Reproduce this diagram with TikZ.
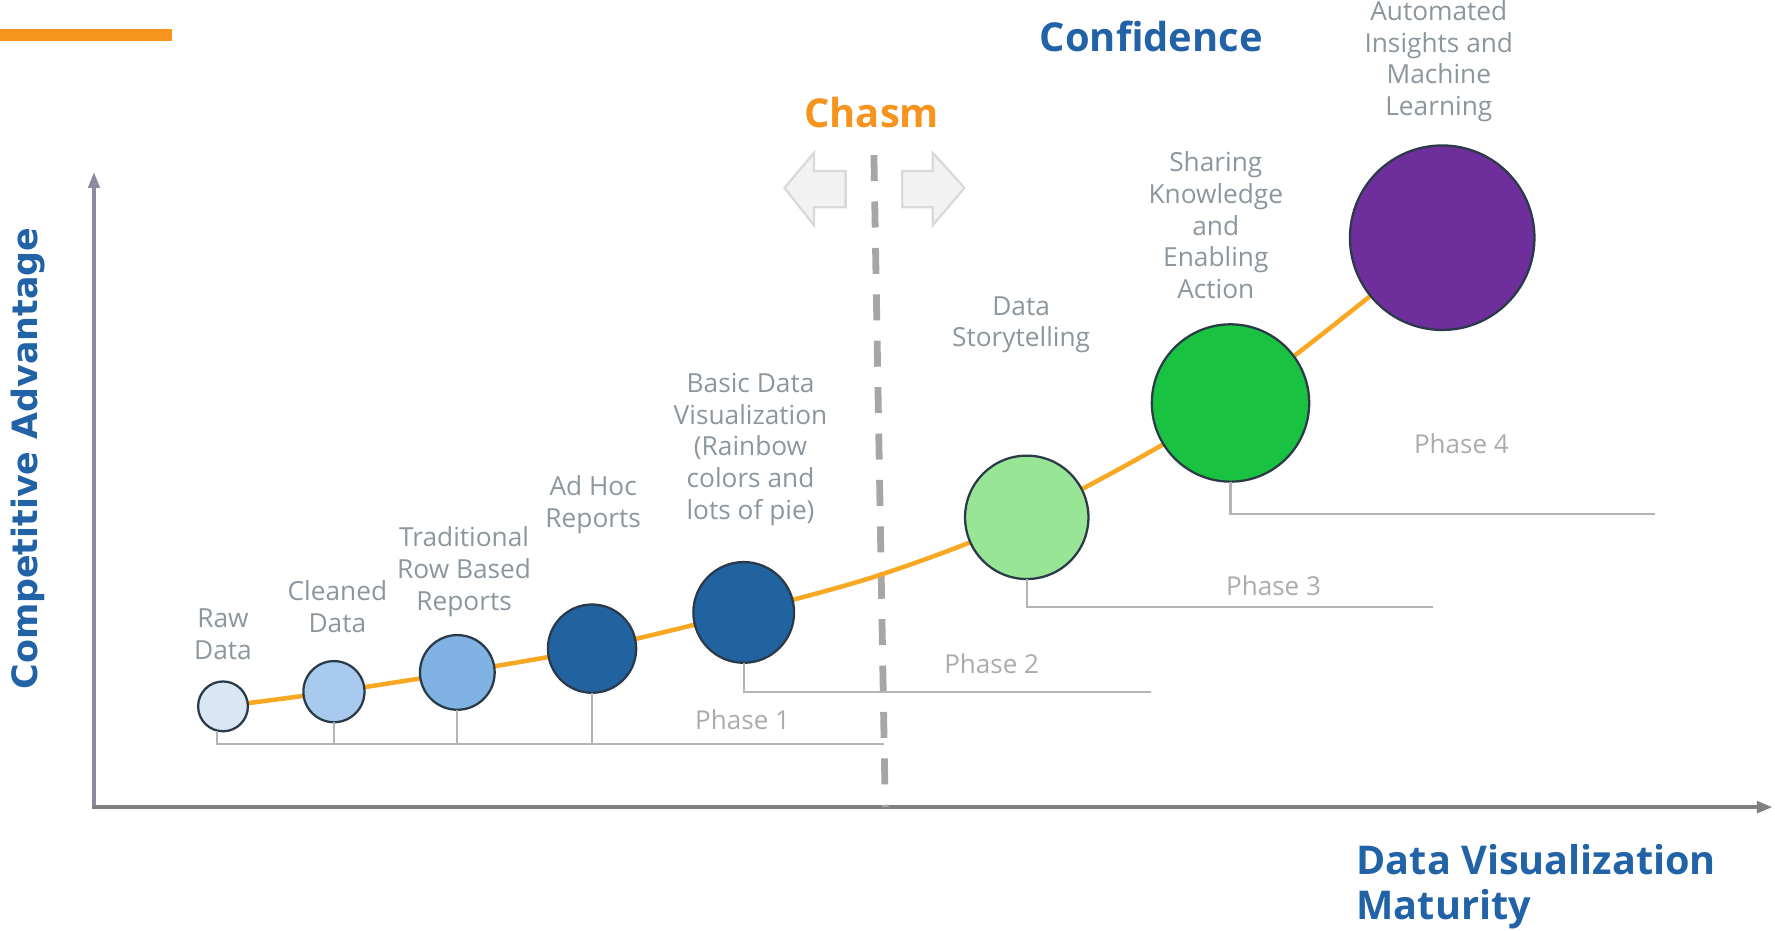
\documentclass[tikz,border=0pt]{standalone}
\usepackage{fontspec}
\setmainfont{Open Sans}
\newfontfamily\axisfont{DejaVu Sans}
\usetikzlibrary{arrows.meta}
\definecolor{tblue}{HTML}{2163A6}
\definecolor{torange}{HTML}{F7941D}
\definecolor{curvec}{HTML}{F8A823}
\definecolor{lblgray}{HTML}{8C969D}
\definecolor{phgray}{HTML}{ABABAB}
\definecolor{phline}{HTML}{B4B4B4}
\definecolor{cstroke}{HTML}{2B3A48}
\definecolor{fraw}{HTML}{D9E6F4}
\definecolor{fclean}{HTML}{A8CAEE}
\definecolor{ftrad}{HTML}{80B2E3}
\definecolor{fdark}{HTML}{2162A1}
\definecolor{fstory}{HTML}{98E596}
\definecolor{fshare}{HTML}{1AC241}
\definecolor{fauto}{HTML}{6E2F9C}
\definecolor{arrfill}{HTML}{F2F2F2}
\definecolor{arrdraw}{HTML}{D9D9D9}
\definecolor{yaxc}{HTML}{8A8AA0}
\definecolor{xaxc}{HTML}{808080}
\definecolor{chasmc}{HTML}{A6A6A6}
\begin{document}
\begin{tikzpicture}[x=0.5pt,y=-0.5pt,
  stage/.style={circle,draw=cstroke,line width=1pt,inner sep=0pt,outer sep=0pt},
  lbl/.style={text=lblgray,align=center,font=\fontsize{11.6}{14}\selectfont},
  phlbl/.style={text=phgray,font=\fontsize{11.5}{14}\selectfont},
  phase/.style={draw=phline,line width=1pt},
  title/.style={font=\fontsize{17.6}{20}\selectfont\bfseries},
  blockarrow/.style={fill=arrfill,draw=arrdraw,line width=1pt,line join=miter}]
\useasboundingbox (0,0) rectangle (1568,822);
% orange bar
\fill[torange] (0,26) rectangle (152,36);
% axes
\coordinate (origin) at (83,713);
\coordinate (ytop) at (83,152);
\coordinate (xend) at (1566,713);
\draw[yaxc,line width=1.5pt,-{Triangle[length=7pt,width=5pt]}] (origin) -- (ytop);
\draw[xaxc,line width=2pt,-{Triangle[length=7pt,width=5pt]}] ([xshift=-1pt]origin) -- (xend);
% chasm dashed line
\coordinate (dtop) at (772,137);
\coordinate (dbot) at (782,713);
\draw[chasmc,line width=3pt,dash pattern=on 11.5pt off 9pt] (dtop) -- (dbot);
% block arrows
\draw[blockarrow] (693,166) -- (719,135) -- (719,151) -- (747,151) -- (747,183) -- (719,183) -- (719,199) -- cycle;
\draw[blockarrow] (852,166) -- (824,135) -- (824,151) -- (797,151) -- (797,183) -- (824,183) -- (824,199) -- cycle;
% centres
\coordinate (p1) at (197,624);
\coordinate (p2) at (295,611);
\coordinate (p3) at (404,594);
\coordinate (p4) at (523,573);
\coordinate (p5) at (657,541);
\coordinate (pm) at (780,507);
\coordinate (p6) at (907,457);
\coordinate (p7) at (1087,356);
\coordinate (p8) at (1274,210);
% curve
\draw[curvec,line width=2pt] plot[smooth,tension=0.5] coordinates {(p1) (p2) (p3) (p4) (p5) (pm) (p6) (p7) (p8)};
% stages
\node[stage,fill=fraw,minimum size=22pt] (raw) at (p1) {};
\node[stage,fill=fclean,minimum size=27pt] (clean) at (p2) {};
\node[stage,fill=ftrad,minimum size=33pt] (trad) at (p3) {};
\node[stage,fill=fdark,minimum size=39pt] (adhoc) at (p4) {};
\node[stage,fill=fdark,minimum size=44.5pt] (basic) at (p5) {};
\node[stage,fill=fstory,minimum size=54.5pt] (story) at (p6) {};
\node[stage,fill=fshare,minimum size=69.5pt] (share) at (p7) {};
\node[stage,fill=fauto,minimum size=81.5pt] (auto) at (p8) {};
% labels
\node[lbl] (lraw) at (197,560) {Raw\\Data};
\node[lbl] (lclean) at (298,536) {Cleaned\\Data};
\node[lbl] (ltrad) at (410,505) {Traditional\\Row Based\\Reports};
\node[lbl] (ladhoc) at (524,446) {Ad Hoc\\Reports};
\node[lbl] (lbasic) at (663,397) {Basic Data\\Visualization\\(Rainbow\\colors and\\lots of pie)};
\node[lbl] (lstory) at (902,287) {Data\\Storytelling};
\node[lbl] (lshare) at (1074,199) {Sharing\\Knowledge\\and\\Enabling\\Action};
\node[lbl] (lauto) at (1271,54) {Automated\\Insights and\\Machine\\Learning};
% phases
\coordinate (ph1end) at (781,657);
\coordinate (ph2end) at (1017,611);
\coordinate (ph3end) at (1266,536);
\coordinate (ph4end) at (1462,454);
\draw[phase] ([xshift=-2.5pt]raw.south) |- (ph1end);
\draw[phase] (clean.south) -- (clean.south |- ph1end);
\draw[phase] (trad.south) -- (trad.south |- ph1end);
\draw[phase] (adhoc.south) -- (adhoc.south |- ph1end);
\draw[phase] (basic.south) |- (ph2end);
\draw[phase] (story.south) |- (ph3end);
\draw[phase] (share.south) |- (ph4end);
\node[phlbl] (ph1) at (656,636) {Phase 1};
\node[phlbl] (ph2) at (876,586) {Phase 2};
\node[phlbl] (ph3) at (1125,517) {Phase 3};
\node[phlbl] (ph4) at (1291,392) {Phase 4};
% titles
\node[title,text=tblue] (conf) at (1017,32) {Confidence};
\node[title,text=torange] (chasm) at (770,99) {Chasm};
\node[text=tblue,rotate=90,font=\axisfont\fontsize{15.4}{18}\selectfont\bfseries] (cadv) at (25,405) {Competitive Advantage};
\node[text=tblue,anchor=west,align=left,inner sep=0pt,font=\fontsize{17.5}{20}\selectfont\bfseries] (dvm) at (1198,783) {Data Visualization\\Maturity};
\end{tikzpicture}
\end{document}
